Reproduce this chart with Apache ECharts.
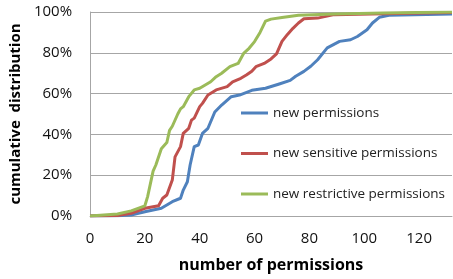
<!DOCTYPE html>
<html>
<head>
<meta charset="utf-8">
<script src="https://cdn.jsdelivr.net/npm/echarts@6/dist/echarts.min.js"></script>
<style>html,body{margin:0;padding:0;background:#fff;}#c{width:453px;height:279px;}</style>
</head>
<body>
<div id="c"></div>
<script>
var seriesNames = ['new permissions', 'new sensitive permissions', 'new restrictive permissions'];
var xTicks = [0, 20, 40, 60, 80, 100, 120];
var yTicks = [0, 20, 40, 60, 80, 100];

var blueX = [0, 10, 15, 20, 26, 28, 30, 33, 34, 35.5, 36.5, 38, 39.5, 41, 43, 45.5, 48, 51.5, 54.5, 59, 64, 69, 73, 75, 78, 80.5, 83, 86.5, 91, 95, 97.5, 101, 103, 105.5, 109, 132];
var blueY = [0, 0.1, 0.5, 2.1, 3.8, 5.4, 7, 8.7, 12.7, 16.8, 25, 34, 34.8, 40.5, 43, 51, 54.4, 58.5, 59.3, 61.6, 62.6, 64.7, 66.5, 68.5, 70.9, 73.4, 76.6, 82.4, 85.6, 86.4, 88, 91.3, 94.6, 97.4, 98.4, 99];

var redX = [0, 10, 15, 20, 25, 26.5, 28, 30, 31, 33, 34, 36, 37, 38, 40, 41, 43, 46, 50, 52, 55, 57, 59, 60.5, 63.5, 66, 68, 70, 72, 74, 76, 78, 83, 89, 107, 132];
var redY = [0, 0.2, 1.3, 3.8, 5, 8.7, 10.3, 17.6, 29, 34, 40.5, 43, 47, 48, 53.6, 55.2, 59.3, 61.8, 63.4, 65.8, 67.5, 69.1, 71, 73.2, 74.8, 77, 79.5, 85.6, 89, 92, 94.6, 96.7, 97, 98.7, 99.1, 99.7];

var greenX = [0, 5, 10, 15, 18, 20, 21, 23, 24, 26, 28, 29, 30, 32, 33, 34, 36, 38, 40, 42, 44, 46, 48, 51, 54, 56, 58, 60, 62, 64, 66, 70, 76, 89, 107, 132];
var greenY = [0, 0.5, 1, 2.5, 4, 5, 9.5, 22, 25, 33, 36, 42, 44, 50, 52.5, 53.6, 58.5, 61.8, 62.6, 64.2, 65.8, 68.3, 70, 73.2, 74.8, 79.7, 82.2, 85.5, 90, 95.5, 96.5, 97.3, 98.4, 99, 99.5, 100];

function pairs(xs, ys) { return xs.map(function (x, i) { return [x, ys[i]]; }); }

var colors = ['#4F81BD', '#C0504D', '#9BBB59'];
var FONT = '"Open Sans"';
var chart = echarts.init(document.getElementById('c'), null, {renderer: 'canvas'});
function mk(name, data, color) {
  return {
    name: name, type: 'line', data: data, showSymbol: false, symbol: 'none',
    lineStyle: {color: color, width: 3, join: 'round'}, itemStyle: {color: color},
    animation: false
  };
}
chart.setOption({
  animation: false,
  textStyle: {fontFamily: FONT},
  grid: {left: 84, right: 1, top: 12, bottom: 63, containLabel: false},
  legend: {
    orient: 'vertical', left: 241, top: 105, padding: 0, itemWidth: 27, itemHeight: 3, itemGap: 24.5, icon: 'rect',
    textStyle: {fontFamily: FONT, fontSize: 13.5, color: '#222', lineHeight: 16},
    data: seriesNames
  },
  xAxis: {
    type: 'value', min: 0, max: 132, interval: 20,
    name: 'number of permissions', nameLocation: 'middle', nameGap: 41,
    nameTextStyle: {fontFamily: FONT, fontWeight: 'bold', fontSize: 16, color: '#000'},
    axisLine: {show: true, lineStyle: {color: '#a6a6a6', width: 1}},
    axisTick: {show: false},
    splitLine: {show: false},
    axisLabel: {fontFamily: FONT, fontSize: 15, color: '#111', margin: 15, showMaxLabel: false,
      formatter: function (v) { return xTicks.indexOf(v) >= 0 ? String(v) : ''; }}
  },
  yAxis: {
    type: 'value', min: 0, max: 100, interval: 20,
    name: 'cumulative  distribution', nameLocation: 'middle', nameGap: 55, nameRotate: 90,
    nameTextStyle: {fontFamily: FONT, fontWeight: 'bold', fontSize: 15, color: '#000'},
    axisLine: {show: true, lineStyle: {color: '#a6a6a6', width: 1}},
    axisTick: {show: false},
    splitLine: {show: true, lineStyle: {color: '#a6a6a6', width: 1}},
    axisLabel: {fontFamily: FONT, fontSize: 15, color: '#111', margin: 18,
      formatter: function (v) { return yTicks.indexOf(v) >= 0 ? v + '%' : ''; }}
  },
  series: [
    mk(seriesNames[0], pairs(blueX, blueY), colors[0]),
    mk(seriesNames[1], pairs(redX, redY), colors[1]),
    mk(seriesNames[2], pairs(greenX, greenY), colors[2])
  ]
});
</script>
</body>
</html>
